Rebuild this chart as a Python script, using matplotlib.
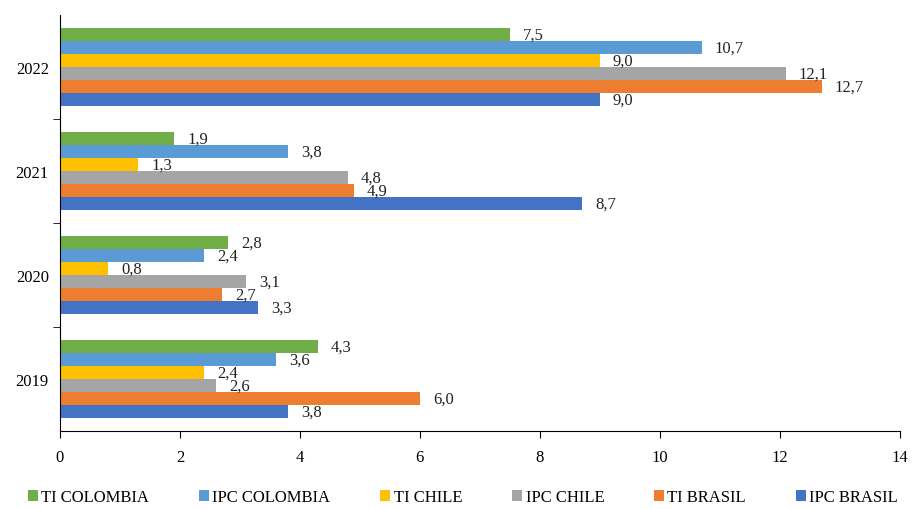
import matplotlib.pyplot as plt
import numpy as np

plt.rcParams['font.family'] = ['Liberation Serif', 'DejaVu Serif']

# Data
years = ["2019", "2020", "2021", "2022"]
series = ["TI COLOMBIA", "IPC COLOMBIA", "TI CHILE", "IPC CHILE", "TI BRASIL", "IPC BRASIL"]
colors = ["#70AD47", "#5B9BD5", "#FFC000", "#A5A5A5", "#ED7D31", "#4472C4"]

ti_colombia = [4.3, 2.8, 1.9, 7.5]
ipc_colombia = [3.6, 2.4, 3.8, 10.7]
ti_chile = [2.4, 0.8, 1.3, 9.0]
ipc_chile = [2.6, 3.1, 4.8, 12.1]
ti_brasil = [6.0, 2.7, 4.9, 12.7]
ipc_brasil = [3.8, 3.3, 8.7, 9.0]
values = [ti_colombia, ipc_colombia, ti_chile, ipc_chile, ti_brasil, ipc_brasil]

fig = plt.figure(figsize=(9.17, 5.10), dpi=100)
ax = fig.add_axes([0.0654, 0.153, 0.9156, 0.815])

y = np.arange(len(years))
h = 0.125
for i, (name, vals, c) in enumerate(zip(series, values, colors)):
    pos = y + (2.5 - i) * h
    ax.barh(pos, vals, height=h, color=c, label=name)
    for p, v in zip(pos, vals):
        ax.text(v + 0.22, p, f"{v:.1f}".replace(".", ","), va="center", ha="left",
                fontsize=12, color="#222222")

ax.set_xlim(0, 14)
ax.set_ylim(-0.5, 3.5)
ax.set_xticks(range(0, 15, 2))
ax.set_yticks(y)
ax.set_yticklabels(years)
ax.tick_params(axis="y", length=0, labelsize=12, pad=8)
ax.set_yticks([0.5, 1.5, 2.5], minor=True)
ax.tick_params(axis="y", which="minor", length=5, direction="out")
ax.tick_params(axis="x", length=5, direction="out", labelsize=12, pad=8)

for s in ["top", "right"]:
    ax.spines[s].set_visible(False)

ax.legend(loc="center", bbox_to_anchor=(0.48, -0.16), ncol=6, frameon=False,
          fontsize=12, handlelength=0.6, handleheight=0.6, handletextpad=0.2,
          columnspacing=3.0)

fig.savefig("out.png", dpi=100)
